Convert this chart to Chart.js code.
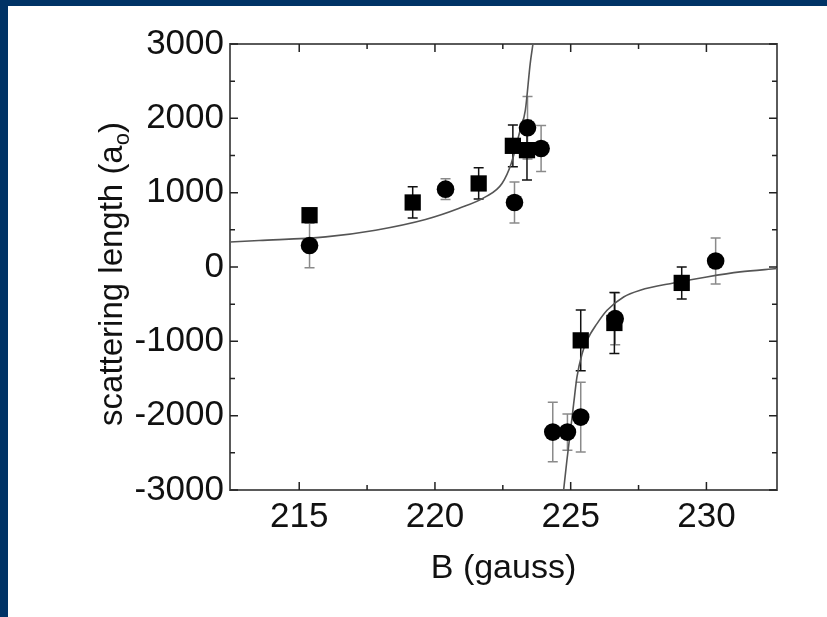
<!DOCTYPE html>
<html>
<head>
<meta charset="utf-8">
<script src="https://cdn.jsdelivr.net/npm/chart.js@4.4.1/dist/chart.umd.min.js"></script>
<style>
  html, body { margin: 0; padding: 0; background: #fff; }
  #wrap { width: 827px; height: 617px; }
</style>
</head>
<body>
<div id="wrap"><canvas id="chart" width="827" height="617"></canvas></div>
<script>
// dữ liệu đo
const squareB   = [215.38, 219.18, 221.61, 222.87, 223.39, 225.37, 226.61, 229.09];
const squareA   = [697, 868, 1124, 1630, 1572, -987, -753, -214];
const squareErr = [90, 210, 210, 280, 400, 410, 410, 215];

const circleB   = [215.38, 220.39, 222.93, 223.41, 223.91, 224.34, 224.88, 225.37, 226.64, 230.34];
const circleA   = [290, 1047, 868, 1873, 1595, -2221, -2221, -2019, -695, 80];
const circleErr = [300, 140, 275, 420, 310, 400, 245, 470, 350, 310];

// đường fit, hai nhánh
const fitLeftB  = [212.45, 213.52, 215.97, 217.81, 219.65, 220.87, 221.86, 222.47, 222.81, 223.14, 223.33, 223.51, 223.61];
const fitLeftA  = [337, 356, 405, 495, 639, 787, 943, 1124, 1393, 1842, 2111, 2740, 3000];
const fitRightB = [224.74, 224.86, 224.98, 225.11, 225.23, 225.42, 225.6, 225.97, 226.34, 226.95, 227.56, 228.79, 230.01, 231.24, 232.6];
const fitRightA = [-3000, -2603, -2243, -1839, -1481, -1166, -987, -762, -582, -403, -313, -215, -134, -66, -21];

// trục
const xTickValues = [215, 217.5, 220, 222.5, 225, 227.5, 230];
const xTickLabels = [215, 220, 225, 230];
const yTickValues = [-3000, -2500, -2000, -1500, -1000, -500, 0, 500, 1000, 1500, 2000, 2500, 3000];
const yTickLabels = [-3000, -2000, -1000, 0, 1000, 2000, 3000];

const FONT = "'Liberation Sans', Arial, Helvetica, sans-serif";

function toPoints(xs, ys) {
    return xs.map((x, i) => ({ x: x, y: ys[i] }));
}

// nền + viền xanh
const backgroundPlugin = {
    id: 'background',
    beforeDraw(chart) {
        const ctx = chart.ctx;
        ctx.save();
        ctx.fillStyle = '#ffffff';
        ctx.fillRect(0, 0, chart.width, chart.height);
        ctx.fillStyle = '#003366';
        ctx.fillRect(0, 0, 8, chart.height);
        ctx.fillRect(0, 0, chart.width, 6);
        ctx.restore();
    }
};

// thanh sai số
const errorBarPlugin = {
    id: 'errorBars',
    beforeDatasetsDraw(chart) {
        const ctx = chart.ctx;
        const xs = chart.scales.x, ys = chart.scales.y;
        const area = chart.chartArea;
        ctx.save();
        ctx.beginPath();
        ctx.rect(area.left, area.top, area.right - area.left, area.bottom - area.top);
        ctx.clip();
        chart.data.datasets.forEach(ds => {
            if (!ds.errors) return;
            ctx.strokeStyle = ds.errorColor;
            ctx.lineWidth = 1.5;
            ds.data.forEach((p, i) => {
                const px = xs.getPixelForValue(p.x);
                const top = ys.getPixelForValue(p.y + ds.errors[i]);
                const bot = ys.getPixelForValue(p.y - ds.errors[i]);
                ctx.beginPath();
                ctx.moveTo(px, top); ctx.lineTo(px, bot);
                ctx.moveTo(px - 5, top); ctx.lineTo(px + 5, top);
                ctx.moveTo(px - 5, bot); ctx.lineTo(px + 5, bot);
                ctx.stroke();
            });
        });
        ctx.restore();
    }
};

// khung + vạch chia hướng vào trong, tiêu đề trục y
const framePlugin = {
    id: 'frame',
    afterDraw(chart) {
        const ctx = chart.ctx;
        const a = chart.chartArea;
        const xs = chart.scales.x, ys = chart.scales.y;
        ctx.save();
        ctx.strokeStyle = '#5a5a5a';
        ctx.lineWidth = 2;
        ctx.strokeRect(a.left, a.top, a.right - a.left, a.bottom - a.top);

        ctx.strokeStyle = '#222';
        ctx.lineWidth = 1.5;
        ctx.beginPath();
        xs.ticks.forEach(t => {
            const px = xs.getPixelForValue(t.value);
            const len = xTickLabels.includes(t.value) ? 8 : 5;
            ctx.moveTo(px, a.bottom); ctx.lineTo(px, a.bottom - len);
            ctx.moveTo(px, a.top); ctx.lineTo(px, a.top + len);
        });
        ys.ticks.forEach(t => {
            const py = ys.getPixelForValue(t.value);
            const len = yTickLabels.includes(t.value) ? 8 : 5;
            ctx.moveTo(a.left, py); ctx.lineTo(a.left + len, py);
            ctx.moveTo(a.right, py); ctx.lineTo(a.right - len, py);
        });
        ctx.stroke();

        // tiêu đề trục y với chỉ số dưới
        const main = 'scattering length (a';
        const sub = 'o';
        const tail = ')';
        ctx.fillStyle = '#111';
        ctx.textBaseline = 'alphabetic';
        ctx.font = '33px ' + FONT;
        const w1 = ctx.measureText(main).width;
        const w3 = ctx.measureText(tail).width;
        ctx.font = '22px ' + FONT;
        const w2 = ctx.measureText(sub).width;
        const total = w1 + w2 + w3;
        ctx.translate(122, 274);
        ctx.rotate(-Math.PI / 2);
        let x0 = -total / 2;
        ctx.font = '33px ' + FONT;
        ctx.fillText(main, x0, 0);
        ctx.font = '22px ' + FONT;
        ctx.fillText(sub, x0 + w1, 7);
        ctx.font = '33px ' + FONT;
        ctx.fillText(tail, x0 + w1 + w2, 0);
        ctx.restore();
    }
};

const config = {
    type: 'scatter',
    data: {
        datasets: [
            {
                label: 'fit left',
                data: toPoints(fitLeftB, fitLeftA),
                showLine: true,
                borderColor: '#555',
                borderWidth: 1.6,
                pointRadius: 0,
                cubicInterpolationMode: 'monotone',
                order: 3
            },
            {
                label: 'fit right',
                data: toPoints(fitRightB, fitRightA),
                showLine: true,
                borderColor: '#555',
                borderWidth: 1.6,
                pointRadius: 0,
                cubicInterpolationMode: 'monotone',
                order: 3
            },
            {
                label: 'circles',
                data: toPoints(circleB, circleA),
                errors: circleErr,
                errorColor: '#8a8a8a',
                pointStyle: 'circle',
                pointRadius: 8.8,
                backgroundColor: '#000',
                borderColor: '#000',
                borderWidth: 0,
                order: 2
            },
            {
                label: 'squares',
                data: toPoints(squareB, squareA),
                errors: squareErr,
                errorColor: '#111',
                pointStyle: 'rect',
                pointRadius: 11.5,
                backgroundColor: '#000',
                borderColor: '#000',
                borderWidth: 0,
                order: 1
            }
        ]
    },
    options: {
        responsive: false,
        animation: false,
        events: [],
        layout: { padding: { top: 44, right: 50, left: 0, bottom: 0 } },
        plugins: {
            legend: { display: false },
            tooltip: { enabled: false }
        },
        scales: {
            x: {
                type: 'linear',
                min: 212.45,
                max: 232.6,
                grid: { display: false, drawTicks: false },
                border: { display: false },
                afterBuildTicks: s => { s.ticks = xTickValues.map(v => ({ value: v })); },
                afterFit: s => { s.height = 127; },
                ticks: {
                    autoSkip: false,
                    maxRotation: 0,
                    padding: 6,
                    color: '#111',
                    font: { size: 35, family: FONT },
                    callback: v => xTickLabels.includes(v) ? String(v) : ''
                },
                title: {
                    display: true,
                    text: 'B (gauss)',
                    color: '#111',
                    font: { size: 34, family: FONT },
                    padding: { top: 0, bottom: 28 }
                }
            },
            y: {
                type: 'linear',
                min: -3000,
                max: 3000,
                grid: { display: false, drawTicks: false },
                border: { display: false },
                afterBuildTicks: s => { s.ticks = yTickValues.map(v => ({ value: v })); },
                afterFit: s => { s.width = 230; },
                ticks: {
                    autoSkip: false,
                    padding: 6,
                    color: '#111',
                    font: { size: 35, family: FONT },
                    callback: v => yTickLabels.includes(v) ? String(v) : ''
                }
            }
        }
    },
    plugins: [backgroundPlugin, errorBarPlugin, framePlugin]
};

new Chart(document.getElementById('chart').getContext('2d'), config);
</script>
</body>
</html>
